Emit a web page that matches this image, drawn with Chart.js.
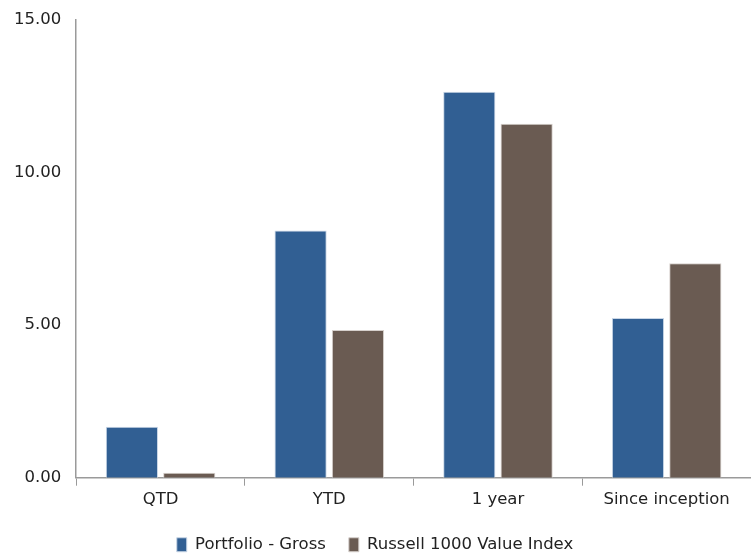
<!DOCTYPE html>
<html>
<head>
<meta charset="utf-8">
<script src="https://cdn.jsdelivr.net/npm/chart.js@4/dist/chart.umd.min.js"></script>
<style>
  html, body { margin: 0; padding: 0; background: #fff; }
  #wrap { width: 751px; height: 553px; }
</style>
</head>
<body>
<div id="wrap"><canvas id="perfChart"></canvas></div>
<script>
// === Dữ liệu
const categories = ["QTD", "YTD", "1 year", "Since inception"];
const portfolioGross = [1.67, 8.1, 12.65, 5.23];
const russellValue = [0.16, 4.84, 11.6, 7.03];
const yTicks = [0, 5, 10, 15];

const fontFamily = "'DejaVu Sans', sans-serif";
const fontSize = 16.5;

new Chart(document.getElementById("perfChart").getContext("2d"), {
  type: "bar",
  data: {
    labels: categories,
    datasets: [
      {
        label: "Portfolio - Gross",
        data: portfolioGross,
        backgroundColor: "#315f93",
        borderColor: "#c9d6e6",
        borderWidth: 1,
        categoryPercentage: 0.68,
        barPercentage: 0.91,
      },
      {
        label: "Russell 1000 Value Index",
        data: russellValue,
        backgroundColor: "#6a5b52",
        borderColor: "#d6d0cc",
        borderWidth: 1,
        categoryPercentage: 0.68,
        barPercentage: 0.91,
      },
    ],
  },
  options: {
    responsive: true,
    maintainAspectRatio: false,
    animation: false,
    layout: { padding: { top: 20, right: 0, left: -1, bottom: -10 } },
    plugins: {
      legend: {
        position: "bottom",
        labels: {
          color: "#222",
          boxWidth: 10,
          boxHeight: 14,
          padding: 23,
          font: { family: fontFamily, size: fontSize },
        },
      },
      tooltip: { enabled: false },
    },
    scales: {
      x: {
        grid: {
          display: true,
          drawOnChartArea: false,
          drawTicks: true,
          tickLength: 8,
          color: "#9a9a9a",
        },
        border: { display: true, color: "#9a9a9a", width: 1.5 },
        ticks: {
          color: "#222",
          padding: 4,
          font: { family: fontFamily, size: fontSize },
        },
      },
      y: {
        min: 0,
        max: 15,
        afterBuildTicks: (axis) => {
          axis.ticks = yTicks.map((v) => ({ value: v }));
        },
        afterFit: (axis) => {
          axis.paddingTop = 0;
        },
        grid: { display: false, drawTicks: false },
        border: { display: true, color: "#9a9a9a", width: 1.5 },
        ticks: {
          color: "#222",
          padding: 15,
          font: { family: fontFamily, size: fontSize },
          callback: (v) => Number(v).toFixed(2),
        },
      },
    },
  },
});
</script>
</body>
</html>
